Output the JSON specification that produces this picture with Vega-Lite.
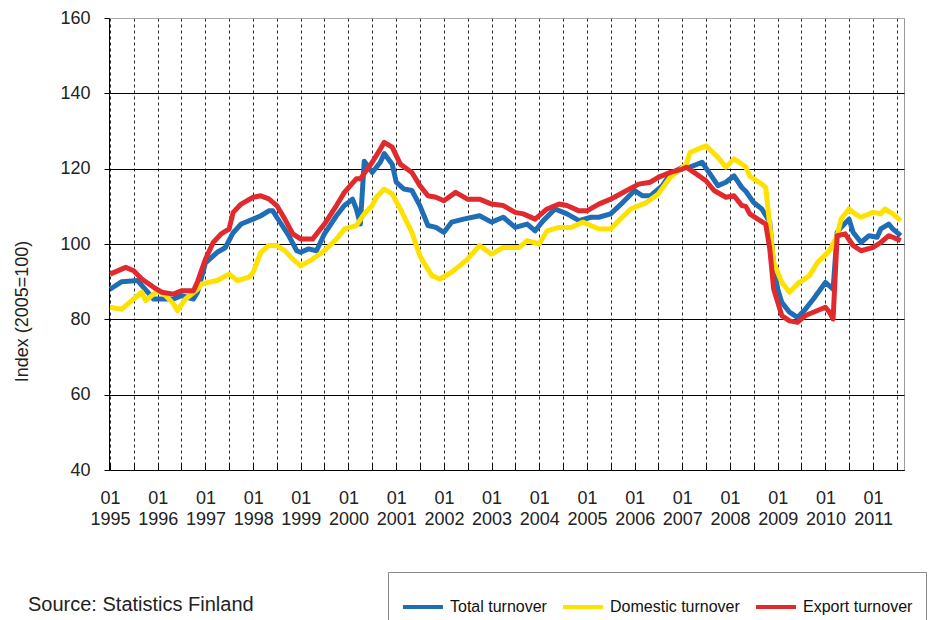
{
  "$schema": "https://vega.github.io/schema/vega-lite/v6.json",
  "autosize": "none",
  "width": 795,
  "height": 452,
  "padding": {"left": 109, "top": 18, "right": 45, "bottom": 150},
  "background": "white",
  "config": {
    "view": {"stroke": "#9a9a9a", "strokeWidth": 1},
    "font": "Liberation Sans"
  },
  "title": {
    "text": "Source: Statistics Finland",
    "orient": "bottom",
    "anchor": "start",
    "frame": "group",
    "baseline": "top",
    "dx": -81,
    "dy": -34,
    "offset": 0,
    "fontSize": 20,
    "font": "Liberation Sans",
    "fontWeight": "normal",
    "color": "#222"
  },
  "data": {
    "values": [
      {"date": "1995-01-01", "series": "Total turnover", "value": 88},
      {"date": "1995-04-01", "series": "Total turnover", "value": 90},
      {"date": "1995-08-01", "series": "Total turnover", "value": 90.3},
      {"date": "1995-09-01", "series": "Total turnover", "value": 89},
      {"date": "1995-12-01", "series": "Total turnover", "value": 85.4},
      {"date": "1996-02-01", "series": "Total turnover", "value": 85.4},
      {"date": "1996-05-01", "series": "Total turnover", "value": 85.4},
      {"date": "1996-07-01", "series": "Total turnover", "value": 86.3},
      {"date": "1996-10-01", "series": "Total turnover", "value": 85.4},
      {"date": "1996-11-01", "series": "Total turnover", "value": 87.2},
      {"date": "1997-01-01", "series": "Total turnover", "value": 95},
      {"date": "1997-04-01", "series": "Total turnover", "value": 97.8},
      {"date": "1997-06-01", "series": "Total turnover", "value": 99},
      {"date": "1997-08-01", "series": "Total turnover", "value": 103},
      {"date": "1997-10-01", "series": "Total turnover", "value": 105.3},
      {"date": "1998-01-01", "series": "Total turnover", "value": 106.6},
      {"date": "1998-03-01", "series": "Total turnover", "value": 107.5},
      {"date": "1998-05-01", "series": "Total turnover", "value": 108.8},
      {"date": "1998-06-01", "series": "Total turnover", "value": 108.8},
      {"date": "1998-07-01", "series": "Total turnover", "value": 107.1},
      {"date": "1998-10-01", "series": "Total turnover", "value": 102.2},
      {"date": "1998-12-01", "series": "Total turnover", "value": 98.2},
      {"date": "1999-01-01", "series": "Total turnover", "value": 97.8},
      {"date": "1999-03-01", "series": "Total turnover", "value": 98.7},
      {"date": "1999-05-01", "series": "Total turnover", "value": 98.2},
      {"date": "1999-07-01", "series": "Total turnover", "value": 102.7},
      {"date": "1999-10-01", "series": "Total turnover", "value": 107.5},
      {"date": "1999-12-01", "series": "Total turnover", "value": 110.2},
      {"date": "2000-02-01", "series": "Total turnover", "value": 111.9},
      {"date": "2000-03-01", "series": "Total turnover", "value": 109.3},
      {"date": "2000-04-01", "series": "Total turnover", "value": 105.3},
      {"date": "2000-05-01", "series": "Total turnover", "value": 122},
      {"date": "2000-07-01", "series": "Total turnover", "value": 119},
      {"date": "2000-09-01", "series": "Total turnover", "value": 121.7},
      {"date": "2000-10-01", "series": "Total turnover", "value": 124},
      {"date": "2000-12-01", "series": "Total turnover", "value": 121.2},
      {"date": "2001-01-01", "series": "Total turnover", "value": 116.4},
      {"date": "2001-03-01", "series": "Total turnover", "value": 114.6},
      {"date": "2001-05-01", "series": "Total turnover", "value": 114.2},
      {"date": "2001-07-01", "series": "Total turnover", "value": 110.2},
      {"date": "2001-09-01", "series": "Total turnover", "value": 104.9},
      {"date": "2001-11-01", "series": "Total turnover", "value": 104.4},
      {"date": "2002-01-01", "series": "Total turnover", "value": 103.1},
      {"date": "2002-03-01", "series": "Total turnover", "value": 105.8},
      {"date": "2002-06-01", "series": "Total turnover", "value": 106.6},
      {"date": "2002-10-01", "series": "Total turnover", "value": 107.5},
      {"date": "2003-01-01", "series": "Total turnover", "value": 105.8},
      {"date": "2003-04-01", "series": "Total turnover", "value": 107.1},
      {"date": "2003-07-01", "series": "Total turnover", "value": 104.4},
      {"date": "2003-10-01", "series": "Total turnover", "value": 105.3},
      {"date": "2003-12-01", "series": "Total turnover", "value": 103.5},
      {"date": "2004-02-01", "series": "Total turnover", "value": 106.2},
      {"date": "2004-05-01", "series": "Total turnover", "value": 109.3},
      {"date": "2004-08-01", "series": "Total turnover", "value": 108},
      {"date": "2004-11-01", "series": "Total turnover", "value": 106.2},
      {"date": "2005-02-01", "series": "Total turnover", "value": 107.1},
      {"date": "2005-04-01", "series": "Total turnover", "value": 107.1},
      {"date": "2005-07-01", "series": "Total turnover", "value": 108},
      {"date": "2005-10-01", "series": "Total turnover", "value": 111},
      {"date": "2006-01-01", "series": "Total turnover", "value": 114.2},
      {"date": "2006-03-01", "series": "Total turnover", "value": 112.8},
      {"date": "2006-05-01", "series": "Total turnover", "value": 112.8},
      {"date": "2006-08-01", "series": "Total turnover", "value": 115.5},
      {"date": "2006-10-01", "series": "Total turnover", "value": 118.6},
      {"date": "2007-01-01", "series": "Total turnover", "value": 120.4},
      {"date": "2007-03-01", "series": "Total turnover", "value": 120.4},
      {"date": "2007-06-01", "series": "Total turnover", "value": 121.7},
      {"date": "2007-08-01", "series": "Total turnover", "value": 118.6},
      {"date": "2007-10-01", "series": "Total turnover", "value": 115.5},
      {"date": "2007-12-01", "series": "Total turnover", "value": 116.4},
      {"date": "2008-02-01", "series": "Total turnover", "value": 118.1},
      {"date": "2008-04-01", "series": "Total turnover", "value": 115},
      {"date": "2008-05-01", "series": "Total turnover", "value": 114},
      {"date": "2008-07-01", "series": "Total turnover", "value": 111},
      {"date": "2008-09-01", "series": "Total turnover", "value": 109.3},
      {"date": "2008-11-01", "series": "Total turnover", "value": 105.8},
      {"date": "2008-12-01", "series": "Total turnover", "value": 94.2},
      {"date": "2009-01-01", "series": "Total turnover", "value": 88},
      {"date": "2009-02-01", "series": "Total turnover", "value": 84.5},
      {"date": "2009-04-01", "series": "Total turnover", "value": 81.9},
      {"date": "2009-06-01", "series": "Total turnover", "value": 80.5},
      {"date": "2009-08-01", "series": "Total turnover", "value": 82.7},
      {"date": "2009-10-01", "series": "Total turnover", "value": 85.4},
      {"date": "2010-01-01", "series": "Total turnover", "value": 89.8},
      {"date": "2010-03-01", "series": "Total turnover", "value": 88},
      {"date": "2010-04-01", "series": "Total turnover", "value": 103.1},
      {"date": "2010-05-01", "series": "Total turnover", "value": 104.4},
      {"date": "2010-07-01", "series": "Total turnover", "value": 106.6},
      {"date": "2010-08-01", "series": "Total turnover", "value": 103.1},
      {"date": "2010-10-01", "series": "Total turnover", "value": 100.4},
      {"date": "2010-12-01", "series": "Total turnover", "value": 102.2},
      {"date": "2011-02-01", "series": "Total turnover", "value": 101.8},
      {"date": "2011-03-01", "series": "Total turnover", "value": 104},
      {"date": "2011-05-01", "series": "Total turnover", "value": 105.3},
      {"date": "2011-06-01", "series": "Total turnover", "value": 104},
      {"date": "2011-08-01", "series": "Total turnover", "value": 102.2},

      {"date": "1995-01-01", "series": "Domestic turnover", "value": 83.2},
      {"date": "1995-04-01", "series": "Domestic turnover", "value": 82.7},
      {"date": "1995-07-01", "series": "Domestic turnover", "value": 85.4},
      {"date": "1995-09-01", "series": "Domestic turnover", "value": 87.2},
      {"date": "1995-10-01", "series": "Domestic turnover", "value": 85},
      {"date": "1996-01-01", "series": "Domestic turnover", "value": 87.6},
      {"date": "1996-03-01", "series": "Domestic turnover", "value": 86.3},
      {"date": "1996-05-01", "series": "Domestic turnover", "value": 84.1},
      {"date": "1996-06-01", "series": "Domestic turnover", "value": 82.3},
      {"date": "1996-08-01", "series": "Domestic turnover", "value": 85.4},
      {"date": "1996-11-01", "series": "Domestic turnover", "value": 88},
      {"date": "1996-12-01", "series": "Domestic turnover", "value": 89.4},
      {"date": "1997-04-01", "series": "Domestic turnover", "value": 90.3},
      {"date": "1997-07-01", "series": "Domestic turnover", "value": 92},
      {"date": "1997-09-01", "series": "Domestic turnover", "value": 90.3},
      {"date": "1997-12-01", "series": "Domestic turnover", "value": 91.2},
      {"date": "1998-01-01", "series": "Domestic turnover", "value": 92.5},
      {"date": "1998-03-01", "series": "Domestic turnover", "value": 97.8},
      {"date": "1998-05-01", "series": "Domestic turnover", "value": 99.6},
      {"date": "1998-07-01", "series": "Domestic turnover", "value": 99.6},
      {"date": "1998-09-01", "series": "Domestic turnover", "value": 98.2},
      {"date": "1998-11-01", "series": "Domestic turnover", "value": 96},
      {"date": "1999-01-01", "series": "Domestic turnover", "value": 94.2},
      {"date": "1999-04-01", "series": "Domestic turnover", "value": 96},
      {"date": "1999-07-01", "series": "Domestic turnover", "value": 98.2},
      {"date": "1999-10-01", "series": "Domestic turnover", "value": 101.3},
      {"date": "1999-12-01", "series": "Domestic turnover", "value": 104},
      {"date": "2000-03-01", "series": "Domestic turnover", "value": 104.9},
      {"date": "2000-05-01", "series": "Domestic turnover", "value": 108},
      {"date": "2000-07-01", "series": "Domestic turnover", "value": 110.2},
      {"date": "2000-08-01", "series": "Domestic turnover", "value": 112.4},
      {"date": "2000-10-01", "series": "Domestic turnover", "value": 114.6},
      {"date": "2000-12-01", "series": "Domestic turnover", "value": 113.3},
      {"date": "2001-02-01", "series": "Domestic turnover", "value": 109.3},
      {"date": "2001-05-01", "series": "Domestic turnover", "value": 103.1},
      {"date": "2001-07-01", "series": "Domestic turnover", "value": 96.9},
      {"date": "2001-08-01", "series": "Domestic turnover", "value": 95},
      {"date": "2001-10-01", "series": "Domestic turnover", "value": 91.6},
      {"date": "2001-12-01", "series": "Domestic turnover", "value": 90.7},
      {"date": "2002-03-01", "series": "Domestic turnover", "value": 92.5},
      {"date": "2002-05-01", "series": "Domestic turnover", "value": 94.2},
      {"date": "2002-07-01", "series": "Domestic turnover", "value": 96},
      {"date": "2002-10-01", "series": "Domestic turnover", "value": 99.6},
      {"date": "2003-01-01", "series": "Domestic turnover", "value": 97.3},
      {"date": "2003-04-01", "series": "Domestic turnover", "value": 99.1},
      {"date": "2003-08-01", "series": "Domestic turnover", "value": 99.1},
      {"date": "2003-10-01", "series": "Domestic turnover", "value": 100.9},
      {"date": "2004-01-01", "series": "Domestic turnover", "value": 100},
      {"date": "2004-03-01", "series": "Domestic turnover", "value": 103.5},
      {"date": "2004-06-01", "series": "Domestic turnover", "value": 104.4},
      {"date": "2004-09-01", "series": "Domestic turnover", "value": 104.4},
      {"date": "2004-12-01", "series": "Domestic turnover", "value": 105.8},
      {"date": "2005-04-01", "series": "Domestic turnover", "value": 104},
      {"date": "2005-07-01", "series": "Domestic turnover", "value": 104},
      {"date": "2005-09-01", "series": "Domestic turnover", "value": 106.2},
      {"date": "2005-12-01", "series": "Domestic turnover", "value": 109.3},
      {"date": "2006-04-01", "series": "Domestic turnover", "value": 111},
      {"date": "2006-07-01", "series": "Domestic turnover", "value": 113.3},
      {"date": "2006-10-01", "series": "Domestic turnover", "value": 117.7},
      {"date": "2007-02-01", "series": "Domestic turnover", "value": 121.2},
      {"date": "2007-03-01", "series": "Domestic turnover", "value": 124.3},
      {"date": "2007-05-01", "series": "Domestic turnover", "value": 125.2},
      {"date": "2007-07-01", "series": "Domestic turnover", "value": 126.1},
      {"date": "2007-10-01", "series": "Domestic turnover", "value": 123},
      {"date": "2007-12-01", "series": "Domestic turnover", "value": 120.4},
      {"date": "2008-02-01", "series": "Domestic turnover", "value": 122.6},
      {"date": "2008-04-01", "series": "Domestic turnover", "value": 121.2},
      {"date": "2008-05-01", "series": "Domestic turnover", "value": 120.5},
      {"date": "2008-06-01", "series": "Domestic turnover", "value": 118},
      {"date": "2008-07-01", "series": "Domestic turnover", "value": 117.3},
      {"date": "2008-09-01", "series": "Domestic turnover", "value": 115.9},
      {"date": "2008-10-01", "series": "Domestic turnover", "value": 115},
      {"date": "2008-11-01", "series": "Domestic turnover", "value": 104.9},
      {"date": "2008-12-01", "series": "Domestic turnover", "value": 95.1},
      {"date": "2009-02-01", "series": "Domestic turnover", "value": 89.8},
      {"date": "2009-04-01", "series": "Domestic turnover", "value": 87.2},
      {"date": "2009-06-01", "series": "Domestic turnover", "value": 89.4},
      {"date": "2009-09-01", "series": "Domestic turnover", "value": 91.6},
      {"date": "2009-11-01", "series": "Domestic turnover", "value": 95.1},
      {"date": "2010-02-01", "series": "Domestic turnover", "value": 98.2},
      {"date": "2010-04-01", "series": "Domestic turnover", "value": 102.2},
      {"date": "2010-05-01", "series": "Domestic turnover", "value": 106.6},
      {"date": "2010-07-01", "series": "Domestic turnover", "value": 109.3},
      {"date": "2010-08-01", "series": "Domestic turnover", "value": 108.4},
      {"date": "2010-10-01", "series": "Domestic turnover", "value": 107.1},
      {"date": "2011-01-01", "series": "Domestic turnover", "value": 108.4},
      {"date": "2011-03-01", "series": "Domestic turnover", "value": 108},
      {"date": "2011-04-01", "series": "Domestic turnover", "value": 109.3},
      {"date": "2011-06-01", "series": "Domestic turnover", "value": 108},
      {"date": "2011-08-01", "series": "Domestic turnover", "value": 106.2},

      {"date": "1995-01-01", "series": "Export turnover", "value": 92},
      {"date": "1995-05-01", "series": "Export turnover", "value": 93.8},
      {"date": "1995-07-01", "series": "Export turnover", "value": 92.9},
      {"date": "1995-09-01", "series": "Export turnover", "value": 90.7},
      {"date": "1995-12-01", "series": "Export turnover", "value": 88.5},
      {"date": "1996-02-01", "series": "Export turnover", "value": 87.2},
      {"date": "1996-05-01", "series": "Export turnover", "value": 86.7},
      {"date": "1996-07-01", "series": "Export turnover", "value": 87.6},
      {"date": "1996-10-01", "series": "Export turnover", "value": 87.6},
      {"date": "1996-11-01", "series": "Export turnover", "value": 90},
      {"date": "1997-01-01", "series": "Export turnover", "value": 96},
      {"date": "1997-03-01", "series": "Export turnover", "value": 100.4},
      {"date": "1997-05-01", "series": "Export turnover", "value": 102.7},
      {"date": "1997-07-01", "series": "Export turnover", "value": 104},
      {"date": "1997-08-01", "series": "Export turnover", "value": 108.4},
      {"date": "1997-10-01", "series": "Export turnover", "value": 110.6},
      {"date": "1998-01-01", "series": "Export turnover", "value": 112.4},
      {"date": "1998-03-01", "series": "Export turnover", "value": 112.8},
      {"date": "1998-05-01", "series": "Export turnover", "value": 112},
      {"date": "1998-07-01", "series": "Export turnover", "value": 110.2},
      {"date": "1998-09-01", "series": "Export turnover", "value": 106.6},
      {"date": "1998-11-01", "series": "Export turnover", "value": 102.7},
      {"date": "1999-01-01", "series": "Export turnover", "value": 101.3},
      {"date": "1999-04-01", "series": "Export turnover", "value": 101.3},
      {"date": "1999-07-01", "series": "Export turnover", "value": 105.3},
      {"date": "1999-10-01", "series": "Export turnover", "value": 110.2},
      {"date": "1999-12-01", "series": "Export turnover", "value": 113.7},
      {"date": "2000-03-01", "series": "Export turnover", "value": 117.3},
      {"date": "2000-04-01", "series": "Export turnover", "value": 117.3},
      {"date": "2000-07-01", "series": "Export turnover", "value": 121.7},
      {"date": "2000-09-01", "series": "Export turnover", "value": 125.2},
      {"date": "2000-10-01", "series": "Export turnover", "value": 127},
      {"date": "2000-12-01", "series": "Export turnover", "value": 125.7},
      {"date": "2001-02-01", "series": "Export turnover", "value": 121.2},
      {"date": "2001-05-01", "series": "Export turnover", "value": 119},
      {"date": "2001-07-01", "series": "Export turnover", "value": 115.5},
      {"date": "2001-09-01", "series": "Export turnover", "value": 112.8},
      {"date": "2001-11-01", "series": "Export turnover", "value": 112.4},
      {"date": "2002-01-01", "series": "Export turnover", "value": 111.5},
      {"date": "2002-04-01", "series": "Export turnover", "value": 113.7},
      {"date": "2002-07-01", "series": "Export turnover", "value": 111.9},
      {"date": "2002-10-01", "series": "Export turnover", "value": 111.9},
      {"date": "2003-01-01", "series": "Export turnover", "value": 110.6},
      {"date": "2003-04-01", "series": "Export turnover", "value": 110.2},
      {"date": "2003-07-01", "series": "Export turnover", "value": 108.4},
      {"date": "2003-09-01", "series": "Export turnover", "value": 108},
      {"date": "2003-12-01", "series": "Export turnover", "value": 106.6},
      {"date": "2004-03-01", "series": "Export turnover", "value": 109.3},
      {"date": "2004-06-01", "series": "Export turnover", "value": 110.6},
      {"date": "2004-08-01", "series": "Export turnover", "value": 110.2},
      {"date": "2004-11-01", "series": "Export turnover", "value": 108.8},
      {"date": "2005-01-01", "series": "Export turnover", "value": 108.8},
      {"date": "2005-04-01", "series": "Export turnover", "value": 110.6},
      {"date": "2005-07-01", "series": "Export turnover", "value": 111.9},
      {"date": "2005-11-01", "series": "Export turnover", "value": 114.2},
      {"date": "2006-02-01", "series": "Export turnover", "value": 115.9},
      {"date": "2006-05-01", "series": "Export turnover", "value": 116.4},
      {"date": "2006-07-01", "series": "Export turnover", "value": 117.7},
      {"date": "2006-10-01", "series": "Export turnover", "value": 119},
      {"date": "2007-01-01", "series": "Export turnover", "value": 119.9},
      {"date": "2007-02-01", "series": "Export turnover", "value": 120.4},
      {"date": "2007-04-01", "series": "Export turnover", "value": 119},
      {"date": "2007-07-01", "series": "Export turnover", "value": 116.8},
      {"date": "2007-09-01", "series": "Export turnover", "value": 114.2},
      {"date": "2007-12-01", "series": "Export turnover", "value": 112.4},
      {"date": "2008-02-01", "series": "Export turnover", "value": 112.8},
      {"date": "2008-04-01", "series": "Export turnover", "value": 110.2},
      {"date": "2008-05-01", "series": "Export turnover", "value": 110},
      {"date": "2008-06-01", "series": "Export turnover", "value": 108},
      {"date": "2008-08-01", "series": "Export turnover", "value": 106.6},
      {"date": "2008-10-01", "series": "Export turnover", "value": 105.3},
      {"date": "2008-11-01", "series": "Export turnover", "value": 98.7},
      {"date": "2008-12-01", "series": "Export turnover", "value": 88},
      {"date": "2009-01-01", "series": "Export turnover", "value": 84.5},
      {"date": "2009-02-01", "series": "Export turnover", "value": 81},
      {"date": "2009-04-01", "series": "Export turnover", "value": 79.6},
      {"date": "2009-06-01", "series": "Export turnover", "value": 79.2},
      {"date": "2009-08-01", "series": "Export turnover", "value": 81},
      {"date": "2009-10-01", "series": "Export turnover", "value": 81.9},
      {"date": "2010-01-01", "series": "Export turnover", "value": 83.2},
      {"date": "2010-02-01", "series": "Export turnover", "value": 81.9},
      {"date": "2010-03-01", "series": "Export turnover", "value": 80.1},
      {"date": "2010-04-01", "series": "Export turnover", "value": 102.2},
      {"date": "2010-06-01", "series": "Export turnover", "value": 102.7},
      {"date": "2010-08-01", "series": "Export turnover", "value": 99.6},
      {"date": "2010-10-01", "series": "Export turnover", "value": 98.2},
      {"date": "2011-01-01", "series": "Export turnover", "value": 99.1},
      {"date": "2011-03-01", "series": "Export turnover", "value": 100.4},
      {"date": "2011-05-01", "series": "Export turnover", "value": 102.2},
      {"date": "2011-06-01", "series": "Export turnover", "value": 101.8},
      {"date": "2011-08-01", "series": "Export turnover", "value": 100.9}
    ]
  },
  "mark": {"type": "line", "strokeWidth": 5, "strokeJoin": "round", "clip": true},
  "encoding": {
    "x": {
      "field": "date",
      "type": "temporal",
      "scale": {"type": "utc", "domain": ["1994-12-24", "2011-08-26"], "nice": false},
      "axis": {
        "title": null,
        "tickCount": {"interval": "month", "step": 6},
        "labelExpr": "utcmonth(datum.value) == 0 ? ['01', '' + utcyear(datum.value)] : ''",
        "labelFlush": false,
        "labelOverlap": false,
        "labelAlign": "center",
        "labelFont": "Liberation Sans",
        "labelFontSize": 18,
        "labelLineHeight": 21,
        "labelColor": "#222",
        "labelPadding": 26,
        "tickSize": -7,
        "tickColor": "#000",
        "domainColor": "#000",
        "grid": true,
        "gridColor": "#000",
        "gridDash": [3, 3],
        "gridWidth": 1,
        "gridOpacity": 0.85
      }
    },
    "y": {
      "field": "value",
      "type": "quantitative",
      "scale": {"domain": [40, 160], "nice": false},
      "axis": {
        "values": [40, 60, 80, 100, 120, 140, 160],
        "title": "Index (2005=100)",
        "titleFont": "Liberation Sans",
        "titleFontSize": 18,
        "titleFontWeight": "normal",
        "titleColor": "#222",
        "titleAngle": -90,
        "titleAlign": "center",
        "titleBaseline": "middle",
        "titleX": -87,
        "titleY": 293,
        "labelFont": "Liberation Sans",
        "labelFontSize": 18,
        "labelColor": "#222",
        "labelPadding": 14,
        "tickSize": 5,
        "tickColor": "#000",
        "domainColor": "#000",
        "grid": true,
        "gridColor": {"condition": {"test": "datum.value == 160", "value": "#aaaaaa"}, "value": "#000"},
        "gridWidth": 1
      }
    },
    "color": {
      "field": "series",
      "type": "nominal",
      "sort": ["Total turnover", "Domestic turnover", "Export turnover"],
      "scale": {
        "domain": ["Total turnover", "Domestic turnover", "Export turnover"],
        "range": ["#1f6db5", "#ffe100", "#e02a2e"]
      },
      "legend": {
        "title": null,
        "orient": "none",
        "legendX": 279,
        "legendY": 554,
        "direction": "horizontal",
        "columns": 3,
        "symbolType": "stroke",
        "symbolStrokeWidth": 4,
        "symbolSize": 1600,
        "labelFont": "Liberation Sans",
        "labelFontSize": 16,
        "labelColor": "#111",
        "labelOffset": 5,
        "labelLimit": 300,
        "columnPadding": 8,
        "padding": 13,
        "strokeColor": "#8a8a8a",
        "fillColor": "white"
      }
    }
  }
}
